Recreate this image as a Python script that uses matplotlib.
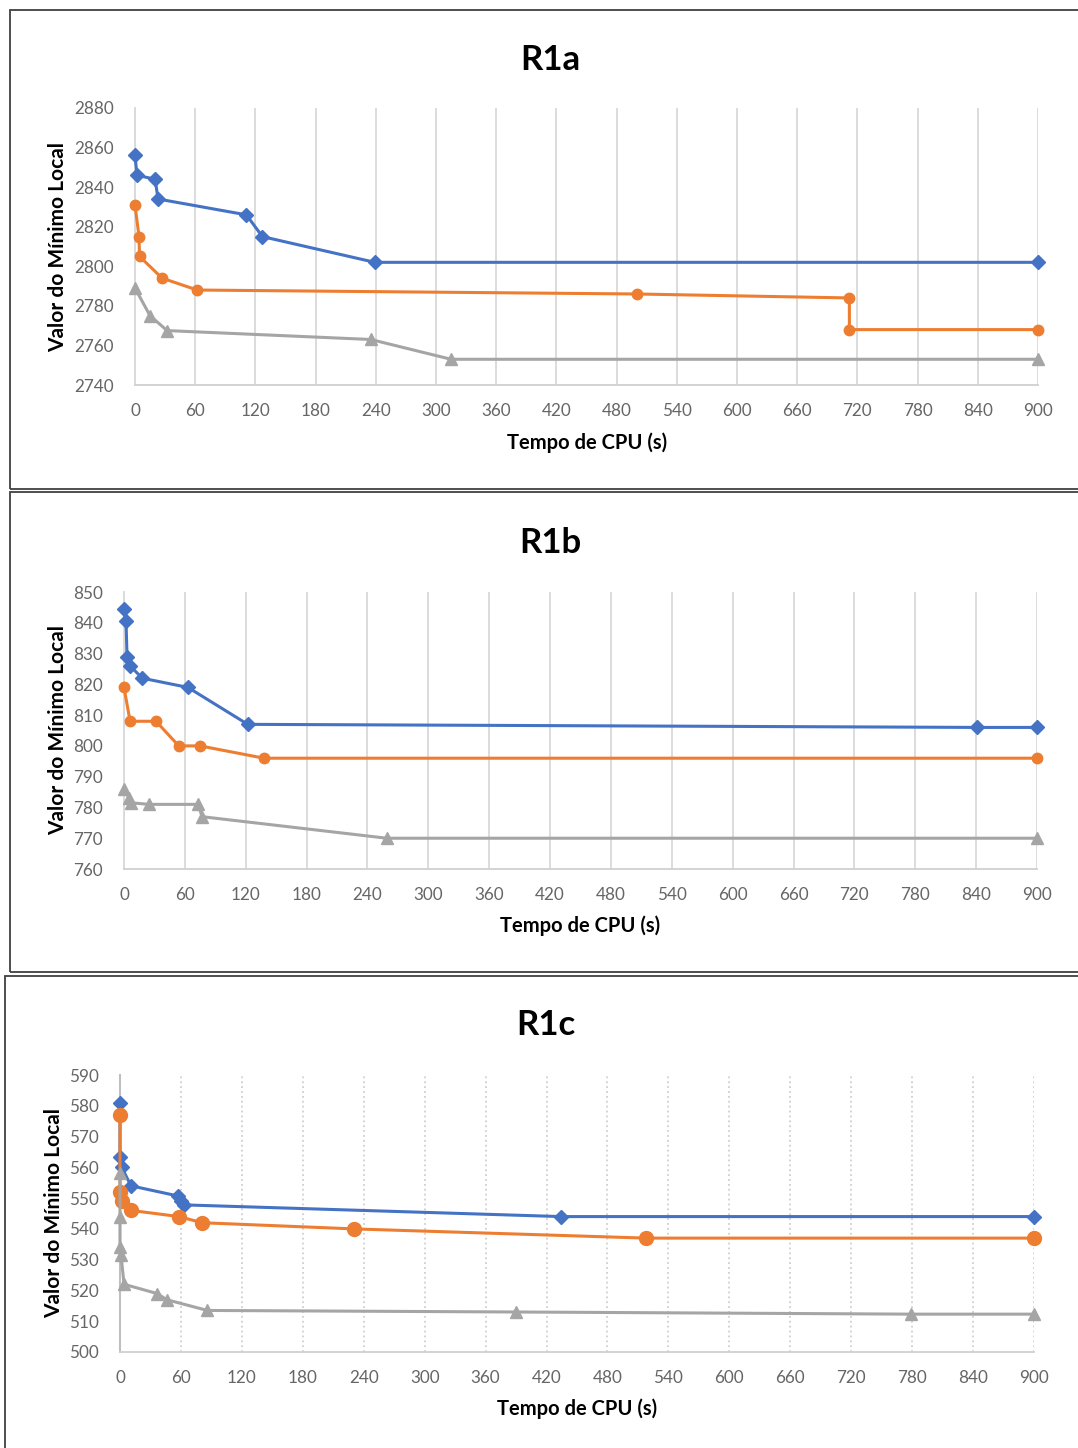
import matplotlib
matplotlib.use("Agg")
import matplotlib.pyplot as plt
from matplotlib.patches import Rectangle

plt.rcParams['font.family'] = ['Lato', 'DejaVu Sans']

# ---------------- data ----------------
titles = ["R1a", "R1b", "R1c"]
xticks = list(range(0, 901, 60))

r1a_blue_t = [0, 2, 20, 23, 111, 127, 239, 900]
r1a_blue_v = [2856, 2846, 2844, 2834, 2826, 2815, 2802, 2802]
r1a_orange_t = [0, 4, 4.5, 27, 62, 500, 712, 712, 900]
r1a_orange_v = [2831, 2815, 2805, 2794, 2788, 2786, 2784, 2768, 2768]
r1a_gray_t = [0, 15, 32, 235, 315, 900]
r1a_gray_v = [2789, 2775, 2767.5, 2763, 2753, 2753]
r1a_yticks = [2740, 2760, 2780, 2800, 2820, 2840, 2860, 2880]

r1b_blue_t = [0, 2, 3, 6, 18, 63, 122, 841, 900]
r1b_blue_v = [844.5, 840.5, 829, 826, 822, 819, 807, 806, 806]
r1b_orange_t = [0, 6, 31.5, 54, 75, 138, 900]
r1b_orange_v = [819, 808, 808, 800, 800, 796, 796]
r1b_gray_t = [0, 5, 7, 25, 73, 77, 259, 900]
r1b_gray_v = [786, 783, 781.5, 781, 781, 777, 770, 770]
r1b_yticks = [760, 770, 780, 790, 800, 810, 820, 830, 840, 850]

r1c_blue_t = [0, 0, 1.7, 10.8, 57, 60.5, 63, 434, 900]
r1c_blue_v = [581, 563.5, 560, 554, 550.7, 549, 547.8, 544, 544]
r1c_orange_t = [0, 0, 2, 11, 58, 81, 230, 518, 900]
r1c_orange_v = [577, 552, 549, 546, 544, 542, 540, 537, 537]
r1c_gray_t = [0, 0, 0, 1, 4, 36.5, 46, 86, 390, 779, 900]
r1c_gray_v = [558, 544, 534, 531.5, 522, 519, 517, 513.5, 513, 512.3, 512.3]
r1c_yticks = [500, 510, 520, 530, 540, 550, 560, 570, 580, 590]

BLUE = "#4472C4"
ORANGE = "#ED7D31"
GRAY = "#A5A5A5"

W, H = 1078, 1448
fig = plt.figure(figsize=(W / 100, H / 100), dpi=100)

def px_rect(x0, y0, x1, y1):
    return [x0 / W, 1 - y1 / H, (x1 - x0) / W, (y1 - y0) / H]

# panel borders
for (x0, y0, x1, y1) in [(10, 10, 1085, 489), (10, 492, 1085, 972), (5, 976, 1085, 1455)]:
    fig.patches.append(Rectangle((x0 / W, 1 - y1 / H), (x1 - x0) / W, (y1 - y0) / H,
                                 transform=fig.transFigure, fill=False,
                                 edgecolor="#404040", linewidth=1.3))

panels = [
    dict(title="R1a", box=(135, 108, 1038, 385), yt=r1a_yticks,
         series=[(r1a_blue_t, r1a_blue_v), (r1a_orange_t, r1a_orange_v), (r1a_gray_t, r1a_gray_v)],
         title_xy=(550, 60), ylab_xy=(58, 247), xlab_xy=(587, 443), dotted=False, osize=7.5),
    dict(title="R1b", box=(124, 592, 1037, 869), yt=r1b_yticks,
         series=[(r1b_blue_t, r1b_blue_v), (r1b_orange_t, r1b_orange_v), (r1b_gray_t, r1b_gray_v)],
         title_xy=(550, 543), ylab_xy=(58, 730), xlab_xy=(580, 926), dotted=False, osize=7.5),
    dict(title="R1c", box=(120, 1075, 1034, 1352), yt=r1c_yticks,
         series=[(r1c_blue_t, r1c_blue_v), (r1c_orange_t, r1c_orange_v), (r1c_gray_t, r1c_gray_v)],
         title_xy=(546, 1025), ylab_xy=(54, 1213), xlab_xy=(577, 1409), dotted=True, osize=10),
]

for p in panels:
    ax = fig.add_axes(px_rect(*p["box"]))
    ax.set_xlim(0, 900)
    ax.set_ylim(p["yt"][0], p["yt"][-1])
    ax.set_xticks(xticks)
    ax.set_yticks(p["yt"])
    ax.tick_params(length=0, labelsize=12.3, labelcolor="#666666")
    ax.tick_params(axis="y", pad=15)
    ax.tick_params(axis="x", pad=13)
    ax.set_axisbelow(True)
    if p["dotted"]:
        ax.grid(axis="x", color="#C8C8C8", linestyle=(0, (1.2, 2.0)), linewidth=1.1)
    else:
        ax.grid(axis="x", color="#D9D9D9", linestyle="-", linewidth=1.3)
    ax.grid(axis="y", visible=False)
    for s in ["top", "right"]:
        ax.spines[s].set_visible(False)
    ax.spines["bottom"].set_color("#D0D0D0")
    ax.spines["bottom"].set_linewidth(1.3)
    ax.spines["left"].set_color("#BFBFBF" if p["dotted"] else "#D9D9D9")
    ax.spines["left"].set_linewidth(1.5 if p["dotted"] else 1.3)

    (bt, bv), (ot, ov), (gt, gv) = p["series"]
    ax.plot(bt, bv, color=BLUE, lw=2.2, marker="D", ms=7, clip_on=False, zorder=3)
    ax.plot(ot, ov, color=ORANGE, lw=2.2, marker="o", ms=p["osize"], clip_on=False, zorder=3)
    ax.plot(gt, gv, color=GRAY, lw=2.2, marker="^", ms=8, clip_on=False, zorder=3)

    tx, ty = p["title_xy"]
    fig.text(tx / W, 1 - ty / H, p["title"], ha="center", va="center",
             fontsize=25, fontweight="bold", color="black")
    lx, ly = p["ylab_xy"]
    fig.text(lx / W, 1 - ly / H, "Valor do Mínimo Local", rotation=90, ha="center",
             va="center", fontsize=15, fontweight="bold", color="black")
    xx, xy = p["xlab_xy"]
    fig.text(xx / W, 1 - xy / H, "Tempo de CPU (s)", ha="center", va="center",
             fontsize=14.5, fontweight="bold", color="black")

fig.savefig("out.png", dpi=100)
